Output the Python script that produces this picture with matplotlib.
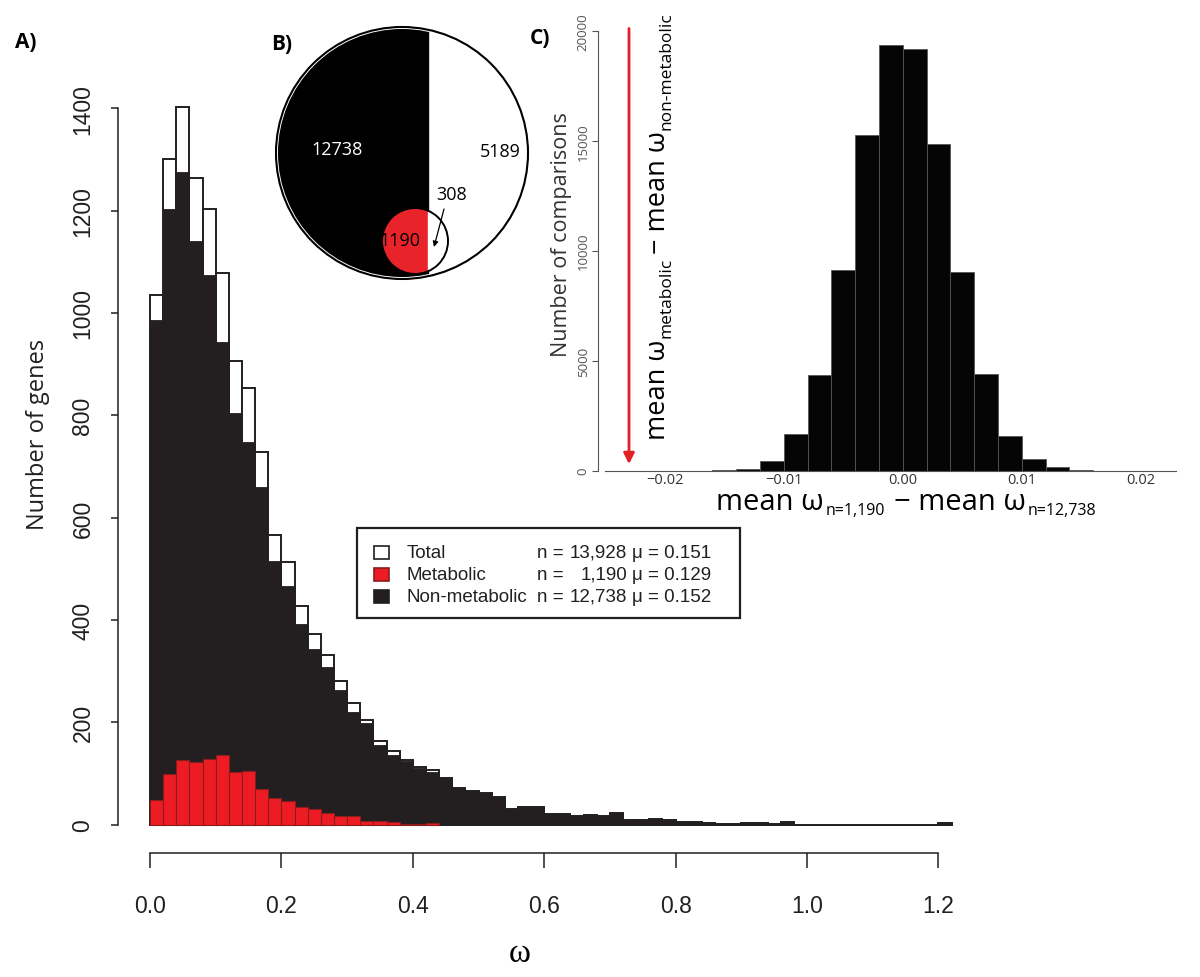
import numpy as np
import matplotlib
matplotlib.use("Agg")
import matplotlib.pyplot as plt
from matplotlib.patches import Rectangle, Circle
from matplotlib.text import Annotation
from matplotlib.transforms import Affine2D

# ---- panel A: omega histogram (bins of 0.02) ----
bin_width = 0.02
bin_left = np.round(np.arange(0, 1.22, bin_width), 2)
metabolic = [48, 98, 126, 123, 128, 136, 102, 105, 69, 52, 47, 35, 30, 22, 16, 17, 7, 7, 6, 1,
             2, 4] + [0] * 39
non_metabolic = [987, 1203, 1276, 1141, 1075, 943, 805, 748, 660, 515, 466, 392, 343, 309, 264,
                 220, 198, 156, 137, 125, 111, 103, 91, 71, 65, 61, 54, 31, 34, 34, 21, 21, 17,
                 19, 17, 23, 9, 9, 11, 9, 5, 6, 3, 1, 1, 3, 4, 1, 6, 0, 0, 0, 0, 0, 0, 0, 0, 0,
                 0, 0, 3]
total = np.array(metabolic) + np.array(non_metabolic)

groups = ["Total", "Metabolic", "Non-metabolic"]
group_n = [13928, 1190, 12738]
group_mu = [0.151, 0.129, 0.152]

# ---- panel B: gene counts ----
venn_counts = [12738, 5189, 308, 1190]

# ---- panel C: permutation differences (bins of 0.002) ----
perm_width = 0.002
perm_left = np.round(np.arange(-0.016, 0.016, perm_width), 3)
perm_counts = [10, 100, 455, 1652, 4364, 9109, 15259, 19350, 19168, 14836, 9045, 4395, 1591,
               530, 150, 20]

W, H = 1200, 978
fig = plt.figure(figsize=(12, 9.78), dpi=100)
# image pixel coords (y down) -> figure
px = Affine2D().scale(1.0 / W, -1.0 / H).translate(0, 1) + fig.transFigure


def px_box(x0, y0, x1, y1):
    return [x0 / W, 1 - y1 / H, (x1 - x0) / W, (y1 - y0) / H]


BLK = "#231f20"
RED = "#ed1c24"
SANS = "Liberation Sans"
MYR = "Open Sans"

# ================= A =================
axA = fig.add_axes(px_box(110, 100, 960, 880))
axA.set_xlim(-40 / 657, 810 / 657)
axA.set_ylim((825.6 - 880) / 0.5116, (825.6 - 100) / 0.5116)
axA.set_facecolor("none")

axA.bar(bin_left, total, width=bin_width, align="edge", color="white", edgecolor=BLK, lw=1.4)
axA.bar(bin_left, non_metabolic, width=bin_width, align="edge", color=BLK, edgecolor=BLK, lw=0.6)
met = np.array(metabolic)
keep = met > 0
axA.bar(bin_left[keep], met[keep], width=bin_width, align="edge", color=RED,
        edgecolor="#8a1c1c", lw=0.8)

for s in ["top", "right"]:
    axA.spines[s].set_visible(False)
axA.spines["left"].set_position(("data", -32 / 657))
axA.spines["left"].set_bounds(0, 1400)
axA.spines["bottom"].set_position(("data", (825.6 - 854.3) / 0.5116))
axA.spines["bottom"].set_bounds(0, 1.2)
for s in ["left", "bottom"]:
    axA.spines[s].set_linewidth(1.1)
    axA.spines[s].set_color(BLK)

yt = np.arange(0, 1401, 200)
axA.set_yticks(yt)
axA.set_yticklabels([str(v) for v in yt], rotation=90, va="center", family=SANS, fontsize=16.5)
xt = np.round(np.arange(0, 1.21, 0.2), 1)
axA.set_xticks(xt)
axA.set_xticklabels([f"{v:.1f}" for v in xt], family=SANS, fontsize=16.5)
axA.tick_params(axis="y", length=5, width=1.1, pad=12, colors=BLK)
axA.tick_params(axis="x", length=11, width=1.1, pad=18, colors=BLK)

fig.text(520, 954, "ω", transform=px, family="Liberation Serif", fontsize=24,
         ha="center", va="center")
fig.text(38, 434, "Number of genes", transform=px, family=MYR, fontsize=17, rotation=90,
         ha="center", va="center", color=BLK)
fig.text(26, 43, "A)", transform=px, family=MYR, fontsize=15, fontweight="bold",
         ha="center", va="center")

# legend
fig.add_artist(Rectangle((357, 529), 383, 90, transform=px, facecolor="white",
                         edgecolor=BLK, lw=1.6))
sq_colors = ["white", RED, BLK]
sq_edges = [BLK, "#8a1c1c", BLK]
for i, (g, n, mu) in enumerate(zip(groups, group_n, group_mu)):
    yc = 553 + 22 * i
    fig.add_artist(Rectangle((374, yc - 6.5), 15, 13, transform=px, facecolor=sq_colors[i],
                             edgecolor=sq_edges[i], lw=1.2))
    fig.text(407, yc, g, transform=px, family=SANS, fontsize=13.5, va="center", color=BLK)
    fig.text(537, yc, "n =", transform=px, family=SANS, fontsize=13.5, va="center", color=BLK)
    fig.text(627, yc, f"{n:,}", transform=px, family=SANS, fontsize=13.5, va="center",
             ha="right", color=BLK)
    fig.text(632, yc, f"μ = {mu:.3f}", transform=px, family=SANS, fontsize=13.5, va="center",
             color=BLK)

# ================= B =================
axB = fig.add_axes(px_box(260, 10, 560, 300))
axB.set_xlim(260, 560)
axB.set_ylim(300, 10)
axB.axis("off")
cx, cy, R = 402, 154, 126
div = 428
big_clip = Circle((cx, cy), R - 2, transform=axB.transData)
blk = Rectangle((250, 0), div - 250, 320, color="black")
axB.add_patch(blk)
blk.set_clip_path(big_clip)
axB.add_patch(Circle((cx, cy), R, fill=False, ec="black", lw=1.5))
sx, sy, r = 415, 242, 33
small_clip = Circle((sx, sy), r, transform=axB.transData)
red = Rectangle((sx - 40, sy - 40), div - (sx - 40), 80, color="#e8242a")
wht = Rectangle((div, sy - 40), 60, 80, color="white")
for p in (red, wht):
    axB.add_patch(p)
    p.set_clip_path(small_clip)
axB.add_patch(Circle((sx, sy), r, fill=False, ec="black", lw=1.4))
axB.text(337, 150, str(venn_counts[0]), color="white", family=MYR, fontsize=13,
         ha="center", va="center")
axB.text(500, 152, str(venn_counts[1]), color="black", family=MYR, fontsize=13,
         ha="center", va="center")
axB.text(452, 195, str(venn_counts[2]), color="black", family=MYR, fontsize=13,
         ha="center", va="center")
axB.text(400, 241, str(venn_counts[3]), color="black", family=MYR, fontsize=13,
         ha="center", va="center")
axB.annotate("", xy=(434, 248), xytext=(444, 210),
             arrowprops=dict(arrowstyle="-|>", color="black", lw=0.9, mutation_scale=8,
                             shrinkA=0, shrinkB=0))
fig.text(282, 45, "B)", transform=px, family=MYR, fontsize=15, fontweight="bold",
         ha="center", va="center")

# ================= C =================
axC = fig.add_axes(px_box(598, 20, 1180, 472))
axC.set_xlim((598 - 902.7) / 11900, (1180 - 902.7) / 11900)
axC.set_ylim((471.7 - 472) / 0.022, (471.7 - 20) / 0.022)
axC.set_facecolor("none")
axC.bar(perm_left, perm_counts, width=perm_width, align="edge", color="#050505",
        edgecolor="#555555", lw=0.6)
for s in ["top", "right"]:
    axC.spines[s].set_visible(False)
axC.spines["left"].set_bounds(0, 20000)
axC.spines["left"].set_color("#555555")
axC.spines["bottom"].set_position(("data", 0))
axC.spines["bottom"].set_bounds(-0.025, 0.023)
axC.spines["bottom"].set_color("#555555")
ytc = np.arange(0, 20001, 5000)
axC.set_yticks(ytc)
axC.set_yticklabels([str(v) for v in ytc], rotation=90, va="center", family=MYR,
                    fontsize=9.5, color="#333333")
xtc = [-0.02, -0.01, 0.0, 0.01, 0.02]
axC.set_xticks(xtc)
axC.set_xticklabels([f"{v:.2f}".replace("-", "\u2212") for v in xtc], family=MYR,
                    fontsize=10.5, color="#333333")
axC.tick_params(axis="y", length=4, width=0.8, pad=2, colors="#555555")
axC.tick_params(axis="x", length=0, pad=1)

obs = group_mu[1] - group_mu[2]
axC.annotate("", xy=(obs, 300), xytext=(obs, 20100),
             arrowprops=dict(arrowstyle="-|>", color="#e31e24", lw=2, mutation_scale=16,
                             shrinkA=0, shrinkB=0))

fig.text(562, 235, "Number of comparisons", transform=px, family=MYR, fontsize=15.5,
         rotation=90, ha="center", va="center", color="#333333")
fig.text(540, 39, "C)", transform=px, family=MYR, fontsize=15, fontweight="bold",
         ha="center", va="center")


def chain(parts, x, y, vertical=False):
    # parts: (text, fontsize, drop in points, gap in points before it)
    s, fs, _, _ = parts[0]
    if vertical:
        first = fig.text(x, y, s, transform=px, fontsize=fs, family=MYR, rotation=90,
                         ha="right", va="bottom")
    else:
        first = fig.text(x, y, s, transform=px, fontsize=fs, family=MYR,
                         ha="left", va="bottom")
    prev = first
    for s, fs, drop, gap in parts[1:]:
        if vertical:
            a = Annotation(s, xy=(1, 1), xycoords=(first, prev), xytext=(drop, gap),
                           textcoords="offset points", fontsize=fs, family=MYR,
                           rotation=90, ha="right", va="bottom")
        else:
            a = Annotation(s, xy=(1, 0), xycoords=(prev, first), xytext=(gap, -drop),
                           textcoords="offset points", fontsize=fs, family=MYR,
                           ha="left", va="bottom")
        fig.add_artist(a)
        prev = a


chain([("mean ω", 21, 0, 0), ("n=1,190", 11.5, 1.5, 1.5), ("\u2212 mean ω", 21, 0, 6),
       ("n=12,738", 11.5, 1.5, 1.5)], 716, 517)
chain([("mean ω", 19.5, 0, 0), ("metabolic", 12.5, 1.5, 1), ("\u2212 mean ω", 19.5, 0, 3),
       ("non-metabolic", 12.5, 1.5, 1)], 672, 440, vertical=True)

fig.savefig("out.png", dpi=100)
